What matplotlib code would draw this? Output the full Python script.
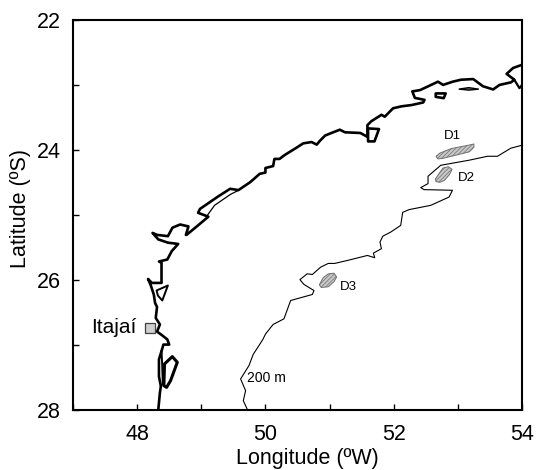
import matplotlib
matplotlib.use("Agg")
import matplotlib.pyplot as plt
from matplotlib.patches import Polygon

plt.rcParams['font.family'] = ['Liberation Sans', 'DejaVu Sans']
plt.rcParams['hatch.linewidth'] = 0.5

coast_lon = [48.33, 48.355, 48.37, 48.34, 48.34, 48.38, 48.41, 48.50, 48.47, 48.38, 48.31, 48.355, 48.29, 48.31,
             48.28, 48.26, 48.21, 48.17, 48.23, 48.38, 48.38, 48.34, 48.47, 48.54, 48.64, 48.48, 48.33, 48.24,
             48.31, 48.48, 48.55, 48.67, 48.80, 48.76, 48.77, 48.93, 49.11, 48.95, 48.98, 49.26, 49.45, 49.58,
             49.76, 49.83, 49.91, 50.0, 50.0, 50.12, 50.14, 50.22, 50.30, 50.48, 50.59, 50.72, 50.80, 50.85, 50.93,
             51.03, 51.16, 51.24, 51.48, 51.59, 51.59, 51.65, 51.81, 51.86, 51.99, 52.12, 52.28, 52.46, 52.48,
             52.33, 52.29, 52.41, 52.54, 52.69, 52.77, 52.92, 53.05, 53.24, 53.39, 53.55, 53.65, 53.83, 53.88,
             53.76, 53.86, 54.0]
coast_lat = [28.0, 27.74, 27.64, 27.49, 27.23, 27.10, 27.0, 27.0, 26.92, 26.85, 26.80, 26.69, 26.59, 26.42,
             26.36, 26.23, 26.08, 25.99, 26.05, 26.05, 25.74, 25.72, 25.69, 25.56, 25.45, 25.43, 25.38, 25.28,
             25.31, 25.33, 25.20, 25.15, 25.18, 25.31, 25.31, 25.18, 25.03, 24.97, 24.91, 24.72, 24.60, 24.62,
             24.50, 24.44, 24.37, 24.35, 24.28, 24.25, 24.14, 24.14, 24.08, 23.97, 23.90, 23.88, 23.92, 23.86, 23.78,
             23.74, 23.69, 23.73, 23.74, 23.80, 23.62, 23.56, 23.46, 23.49, 23.36, 23.33, 23.31, 23.27, 23.23,
             23.20, 23.10, 23.08, 23.02, 22.95, 23.0, 22.95, 22.92, 22.91, 23.02, 23.07, 23.0, 22.96, 22.92,
             22.83, 22.74, 22.69]

island_a_lon = [51.60, 51.77, 51.70, 51.60]
island_a_lat = [23.67, 23.68, 23.87, 23.87]
island_b_lon = [52.655, 52.81, 52.78, 52.655]
island_b_lat = [23.131, 23.131, 23.204, 23.184]
island_c_lon = [53.014, 53.17, 53.326, 53.17]
island_c_lat = [23.065, 23.042, 23.065, 23.08]
island_f_lon = [48.417, 48.427, 48.548, 48.626, 48.521, 48.459]
island_f_lat = [27.633, 27.298, 27.185, 27.273, 27.556, 27.659]
island_g_lon = [48.303, 48.479, 48.392, 48.323]
island_g_lat = [26.167, 26.09, 26.321, 26.244]
loop_lon = [53.88, 53.96, 54.0]
loop_lat = [22.92, 23.05, 23.0]
sliver_lon = [49.083, 49.207, 49.457, 49.582]
sliver_lat = [25.025, 24.855, 24.685, 24.623]
double_lon = [48.38, 48.39, 48.40, 48.37]
double_lat = [27.1, 27.3, 27.6, 27.64]

iso_lon = [54.0, 53.825, 53.618, 53.462, 53.175, 52.733, 52.535, 52.535, 52.421, 52.473, 52.916, 52.863, 52.577,
           52.239, 52.14, 52.109, 51.953, 51.83, 51.786, 51.808, 51.683, 51.704, 51.59, 51.278, 51.08, 50.98, 50.861,
           50.732, 50.65, 50.538, 50.601, 50.757, 50.732, 50.393, 50.289, 50.12, 50.003, 49.96, 49.899, 49.81, 49.743,
           49.613, 49.691, 49.655, 49.718]
iso_lat = [23.929, 23.975, 24.099, 24.099, 24.16, 24.238, 24.407, 24.52, 24.582, 24.613, 24.623, 24.727, 24.855,
           24.921, 24.963, 25.164, 25.267, 25.33, 25.421, 25.523, 25.591, 25.662, 25.627, 25.704, 25.75, 25.75, 25.807,
           25.92, 25.91, 26.0, 26.074, 26.167, 26.228, 26.321, 26.603, 26.69, 26.835, 26.92, 27.015, 27.15, 27.324,
           27.529, 27.71, 27.864, 28.0]

d1_lon = [52.66, 52.72, 52.90, 53.16, 53.25, 53.25, 53.18, 52.98, 52.77, 52.69]
d1_lat = [24.10, 24.05, 23.98, 23.93, 23.91, 23.96, 24.03, 24.08, 24.13, 24.14]
d2_lon = [52.65, 52.71, 52.77, 52.85, 52.91, 52.87, 52.79, 52.72, 52.66]
d2_lat = [24.45, 24.36, 24.28, 24.26, 24.30, 24.38, 24.47, 24.50, 24.49]
d3_lon = [50.84, 50.90, 50.98, 51.07, 51.11, 51.07, 50.98, 50.87]
d3_lat = [26.08, 25.97, 25.91, 25.90, 25.96, 26.03, 26.11, 26.12]

port_lon = [48.20]
port_lat = [26.75]
x_ticks = [47, 48, 49, 50, 51, 52, 53, 54]
x_labels = ['', '48', '', '50', '', '52', '', '54']
y_ticks = [22, 23, 24, 25, 26, 27, 28]
y_labels = ['22', '', '24', '', '26', '', '28']

fig = plt.figure(figsize=(5.36, 4.70), dpi=100)
ax = fig.add_axes([73 / 536, (470 - 409.5) / 470, (522 - 73) / 536, (409.5 - 20) / 470])
ax.set_xlim(47, 54)
ax.set_ylim(28, 22)

ax.plot(coast_lon, coast_lat, color='k', lw=1.9, solid_joinstyle='round')
ax.plot(double_lon, double_lat, color='k', lw=1.4)
ax.plot(sliver_lon, sliver_lat, color='k', lw=0.9)
ax.plot(loop_lon, loop_lat, color='k', lw=1.6)
for lon, lat, lw in [(island_a_lon, island_a_lat, 1.9), (island_b_lon, island_b_lat, 1.9),
                     (island_f_lon, island_f_lat, 2.2), (island_g_lon, island_g_lat, 1.4)]:
    ax.add_patch(Polygon(list(zip(lon, lat)), closed=True, fill=False, edgecolor='k', lw=lw, joinstyle='round'))
ax.add_patch(Polygon(list(zip(island_c_lon, island_c_lat)), closed=True, facecolor='#777777', edgecolor='k', lw=1.0))
ax.plot(iso_lon, iso_lat, color='k', lw=0.8)

for lon, lat in [(d1_lon, d1_lat), (d2_lon, d2_lat), (d3_lon, d3_lat)]:
    ax.add_patch(Polygon(list(zip(lon, lat)), closed=True, facecolor='#c8c8c8', edgecolor='#6e6e6e',
                         hatch='////////', lw=0.7, joinstyle='round'))

ax.plot(port_lon, port_lat, 's', ms=6.8, mfc='#cfcfcf', mec='#404040', mew=0.9)

ax.text(52.92, 23.78, 'D1', fontsize=9.5, ha='center', va='center')
ax.text(53.14, 24.43, 'D2', fontsize=9.5, ha='center', va='center')
ax.text(51.30, 26.12, 'D3', fontsize=9.5, ha='center', va='center')
ax.text(50.02, 27.51, '200 m', fontsize=10, ha='center', va='center')
ax.text(47.64, 26.74, 'Itajaí', fontsize=15, ha='center', va='center')

ax.set_xticks(x_ticks)
ax.set_xticklabels(x_labels)
ax.set_yticks(y_ticks)
ax.set_yticklabels(y_labels)
ax.tick_params(axis='both', direction='in', length=4, width=1.0, labelsize=15.5)
ax.tick_params(axis='x', pad=10.5)
ax.tick_params(axis='y', pad=9)
for s in ax.spines.values():
    s.set_linewidth(1.5)
ax.set_xlabel('Longitude (ºW)', fontsize=15.5, va='center')
ax.set_ylabel('Latitude (ºS)', fontsize=15.5, va='center')
ax.xaxis.set_label_coords(0.521, -0.126)
ax.yaxis.set_label_coords(-0.118, 0.515)

fig.savefig('out.png', dpi=100)
